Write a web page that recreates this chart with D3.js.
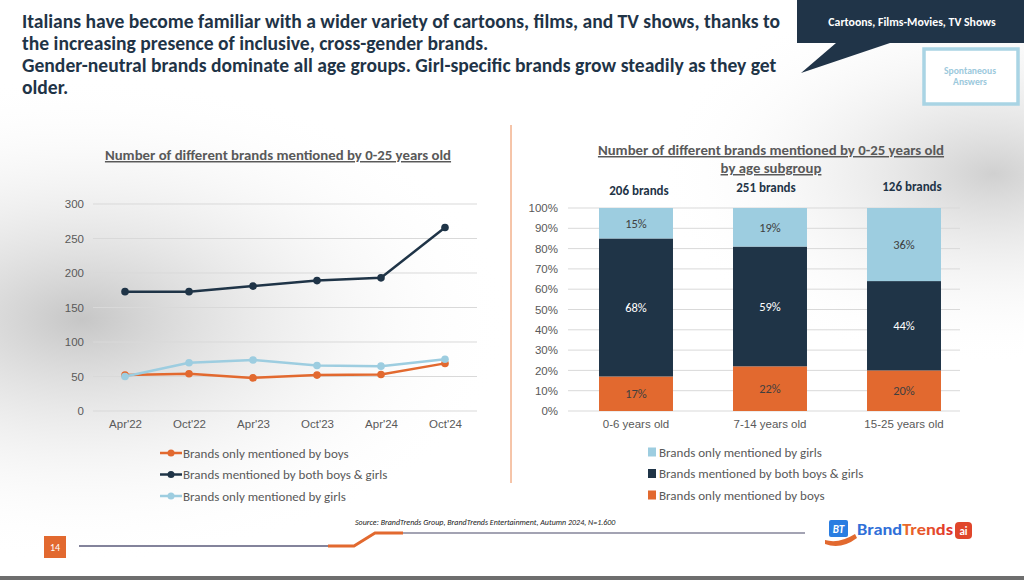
<!DOCTYPE html>
<html>
<head>
<meta charset="utf-8">
<script src="https://cdn.jsdelivr.net/npm/d3@7"></script>
<style>
  body { margin: 0; background: #fff; }
  svg { display: block; font-family: Carlito, Calibri, Lato, "Open Sans", sans-serif; }
</style>
</head>
<body>
<div id="chart"></div>
<script>
// Data
const periods = ["Apr'22", "Oct'22", "Apr'23", "Oct'23", "Apr'24", "Oct'24"];
const boysLine = [52, 54, 48, 52, 53, 69];
const bothLine = [173, 173, 181, 189, 193, 266];
const girlsLine = [50, 70, 74, 66, 65, 75];
const countTicks = [0, 50, 100, 150, 200, 250, 300];

const ageGroups = ["0-6 years old", "7-14 years old", "15-25 years old"];
const brandTotals = ["206 brands", "251 brands", "126 brands"];
const boysShare = [17, 22, 20];
const bothShare = [68, 59, 44];
const girlsShare = [15, 19, 36];
const pctTicks = [0, 10, 20, 30, 40, 50, 60, 70, 80, 90, 100];

const seriesNames = {
  boys: "Brands only mentioned by boys",
  both: "Brands mentioned by both boys & girls",
  girls: "Brands only mentioned by girls"
};

const navy = "#1f3447", orange = "#e2692f", lightBlue = "#9dcde0";
const gray = "#595959", grid = "#d9d9d9";

const svg = d3.select("#chart")
  .append("svg")
  .attr("width", 1024)
  .attr("height", 580);

// Background shading
const defs = svg.append("defs");
const g1 = defs.append("radialGradient").attr("id", "shadeLeft")
  .attr("cx", 0.08).attr("cy", 0.55).attr("r", 0.42);
g1.append("stop").attr("offset", "0%").attr("stop-color", "#c6c6c6");
g1.append("stop").attr("offset", "100%").attr("stop-color", "#fff").attr("stop-opacity", 0);
const g2 = defs.append("radialGradient").attr("id", "shadeRight")
  .attr("cx", 0.97).attr("cy", 0.3).attr("r", 0.33);
g2.append("stop").attr("offset", "0%").attr("stop-color", "#d0d0d0");
g2.append("stop").attr("offset", "100%").attr("stop-color", "#fff").attr("stop-opacity", 0);
const g3 = defs.append("linearGradient").attr("id", "brandGrad");
g3.append("stop").attr("offset", "0%").attr("stop-color", "#f3a22a");
g3.append("stop").attr("offset", "100%").attr("stop-color", "#e0332b");

svg.append("rect").attr("width", 1024).attr("height", 580).attr("fill", "#fff");
svg.append("rect").attr("width", 1024).attr("height", 580).attr("fill", "url(#shadeLeft)");
svg.append("rect").attr("width", 1024).attr("height", 580).attr("fill", "url(#shadeRight)");
svg.append("rect").attr("x", 0).attr("y", 576).attr("width", 1024).attr("height", 4).attr("fill", "#6e6e6e");

// Headline
const headline = [
  "Italians have become familiar with a wider variety of cartoons, films, and TV shows, thanks to",
  "the increasing presence of inclusive, cross-gender brands.",
  "Gender-neutral brands dominate all age groups. Girl-specific brands grow steadily as they get",
  "older."
];
svg.append("g").selectAll("text")
  .data(headline)
  .join("text")
  .attr("x", 22)
  .attr("y", (d, i) => 28 + i * 22)
  .attr("fill", navy)
  .style("font-size", "19.6px")
  .style("font-weight", "bold")
  .text(d => d);

// Callout top right
svg.append("path")
  .attr("d", "M797,0 L1024,0 L1024,43 L890,43 L801,73 L836,43 L797,43 Z")
  .attr("fill", "#203448");
svg.append("text")
  .attr("x", 912).attr("y", 26)
  .attr("text-anchor", "middle")
  .attr("fill", "#fff")
  .style("font-size", "11.8px")
  .style("font-weight", "bold")
  .text("Cartoons, Films-Movies, TV Shows");

svg.append("rect")
  .attr("x", 924).attr("y", 49).attr("width", 94).attr("height", 55)
  .attr("fill", "#fff")
  .attr("stroke", "#a9d4e4")
  .attr("stroke-width", 3.5);
svg.append("g").selectAll("text")
  .data(["Spontaneous", "Answers"])
  .join("text")
  .attr("x", 970)
  .attr("y", (d, i) => 74 + i * 11)
  .attr("text-anchor", "middle")
  .attr("fill", "#9cc9dc")
  .style("font-size", "9.6px")
  .style("font-weight", "bold")
  .text(d => d);

// Divider
svg.append("line")
  .attr("x1", 511).attr("x2", 511).attr("y1", 125).attr("y2", 483)
  .attr("stroke", "#ec8a52").attr("stroke-width", 1);

// ---------- Left chart: line chart ----------
svg.append("text")
  .attr("x", 278).attr("y", 160)
  .attr("text-anchor", "middle")
  .attr("fill", gray)
  .style("font-size", "14.8px")
  .style("font-weight", "bold")
  .style("text-decoration", "underline")
  .text("Number of different brands mentioned by 0-25 years old");

const x1 = d3.scalePoint().domain(periods).range([93, 477]).padding(0.5);
const y1 = d3.scaleLinear().domain([0, 300]).range([411, 204]);

svg.append("g").selectAll("line")
  .data(countTicks)
  .join("line")
  .attr("x1", 93).attr("x2", 477)
  .attr("y1", d => y1(d)).attr("y2", d => y1(d))
  .attr("stroke", grid).attr("stroke-width", 1);

const yAxis1 = svg.append("g")
  .attr("transform", "translate(84,0)")
  .call(d3.axisLeft(y1).tickValues(countTicks).tickSize(0).tickPadding(0));
yAxis1.select(".domain").remove();
yAxis1.selectAll("text").attr("fill", gray).style("font-size", "11.5px").style("font-family", null);

const xAxis1 = svg.append("g")
  .attr("transform", "translate(0,420)")
  .call(d3.axisBottom(x1).tickSize(0).tickPadding(0));
xAxis1.select(".domain").remove();
xAxis1.selectAll("text").attr("fill", gray).style("font-size", "11.5px").style("font-family", null);

const lineSeries = [
  { key: "boys", values: boysLine, color: orange },
  { key: "both", values: bothLine, color: navy },
  { key: "girls", values: girlsLine, color: lightBlue }
];
const line = d3.line().x((d, i) => x1(periods[i])).y(d => y1(d));

lineSeries.forEach(s => {
  svg.append("path")
    .datum(s.values)
    .attr("d", line)
    .attr("fill", "none")
    .attr("stroke", s.color)
    .attr("stroke-width", 2.5)
    .attr("stroke-linejoin", "round");
  svg.append("g").selectAll("circle")
    .data(s.values)
    .join("circle")
    .attr("cx", (d, i) => x1(periods[i]))
    .attr("cy", d => y1(d))
    .attr("r", 3.8)
    .attr("fill", s.color);
});

// Left legend
const legL = svg.append("g").selectAll("g")
  .data(lineSeries)
  .join("g")
  .attr("transform", (d, i) => `translate(160,${453 + i * 21.5})`);
legL.append("line").attr("x1", 0).attr("x2", 22).attr("stroke", d => d.color).attr("stroke-width", 2.5);
legL.append("circle").attr("cx", 11).attr("r", 3.5).attr("fill", d => d.color);
legL.append("text")
  .attr("x", 23).attr("dy", "0.35em")
  .attr("fill", gray)
  .style("font-size", "13px")
  .text(d => seriesNames[d.key]);

// ---------- Right chart: 100% stacked bars ----------
svg.append("g").selectAll("text")
  .data(["Number of different brands mentioned by 0-25 years old", "by age subgroup"])
  .join("text")
  .attr("x", 771)
  .attr("y", (d, i) => 155 + i * 18)
  .attr("text-anchor", "middle")
  .attr("fill", gray)
  .style("font-size", "14.8px")
  .style("font-weight", "bold")
  .style("text-decoration", "underline")
  .text(d => d);

const x2 = d3.scaleBand().domain(ageGroups).range([569, 971]).paddingInner(0.448).paddingOuter(0.224);
const y2 = d3.scaleLinear().domain([0, 100]).range([411, 208]);

svg.append("g").selectAll("line")
  .data(pctTicks)
  .join("line")
  .attr("x1", 568).attr("x2", 960)
  .attr("y1", d => y2(d)).attr("y2", d => y2(d))
  .attr("stroke", grid).attr("stroke-width", 1);

const yAxis2 = svg.append("g")
  .attr("transform", "translate(558,0)")
  .call(d3.axisLeft(y2).tickValues(pctTicks).tickFormat(d => d + "%").tickSize(0).tickPadding(0));
yAxis2.select(".domain").remove();
yAxis2.selectAll("text").attr("fill", gray).style("font-size", "11.5px").style("font-family", null);

const xAxis2 = svg.append("g")
  .attr("transform", "translate(0,420)")
  .call(d3.axisBottom(x2).tickSize(0).tickPadding(0));
xAxis2.select(".domain").remove();
xAxis2.selectAll("text").attr("fill", gray).style("font-size", "11.5px").style("font-family", null);

const barRows = ageGroups.map((a, i) => ({ age: a, boys: boysShare[i], both: bothShare[i], girls: girlsShare[i] }));
const stack = d3.stack().keys(["boys", "both", "girls"]);
const barColors = { boys: orange, both: navy, girls: lightBlue };
const labelColors = { boys: "#3f3f3f", both: "#fff", girls: "#3f3f3f" };

const layers = svg.append("g").selectAll("g")
  .data(stack(barRows))
  .join("g")
  .attr("fill", d => barColors[d.key]);

layers.selectAll("rect")
  .data(d => d)
  .join("rect")
  .attr("x", d => x2(d.data.age))
  .attr("width", x2.bandwidth())
  .attr("y", d => y2(d[1]))
  .attr("height", d => y2(d[0]) - y2(d[1]));

layers.selectAll("text")
  .data(d => d.map(v => ({ v, key: d.key })))
  .join("text")
  .attr("x", d => x2(d.v.data.age) + x2.bandwidth() / 2)
  .attr("y", d => y2((d.v[0] + d.v[1]) / 2))
  .attr("dy", "0.35em")
  .attr("text-anchor", "middle")
  .attr("fill", d => labelColors[d.key])
  .style("font-size", "12.5px")
  .text(d => d.v.data[d.key] + "%");

// totals sit a little off-centre on the slide
const totalShift = [3, -4, 8], totalY = [195, 192, 191];
svg.append("g").selectAll("text")
  .data(brandTotals)
  .join("text")
  .attr("x", (d, i) => x2(ageGroups[i]) + x2.bandwidth() / 2 + totalShift[i])
  .attr("y", (d, i) => totalY[i])
  .attr("text-anchor", "middle")
  .attr("fill", navy)
  .style("font-size", "13px")
  .style("font-weight", "bold")
  .text(d => d);

// Right legend
const rightLegend = ["girls", "both", "boys"];
const legR = svg.append("g").selectAll("g")
  .data(rightLegend)
  .join("g")
  .attr("transform", (d, i) => `translate(648,${452 + i * 21.5})`);
legR.append("rect").attr("x", 0).attr("y", -4.5).attr("width", 8).attr("height", 9).attr("fill", d => barColors[d]);
legR.append("text")
  .attr("x", 11).attr("dy", "0.35em")
  .attr("fill", gray)
  .style("font-size", "13px")
  .text(d => seriesNames[d]);

// ---------- Footer ----------
svg.append("text")
  .attr("x", 355).attr("y", 525)
  .attr("fill", "#222")
  .style("font-size", "8px")
  .style("font-style", "italic")
  .text("Source: BrandTrends Group, BrandTrends Entertainment, Autumn 2024, N=1.600");

svg.append("line").attr("x1", 79).attr("x2", 330).attr("y1", 546).attr("y2", 546)
  .attr("stroke", "#5a5a7a").attr("stroke-width", 1.5);
svg.append("path").attr("d", "M328,546 L354,546 L375,533 L403,533")
  .attr("fill", "none").attr("stroke", "#e2692f").attr("stroke-width", 3);
svg.append("line").attr("x1", 403).attr("x2", 805).attr("y1", 533).attr("y2", 533)
  .attr("stroke", "#a3a3b3").attr("stroke-width", 2);

svg.append("rect").attr("x", 44).attr("y", 536).attr("width", 22).attr("height", 22).attr("fill", "#e2692f");
svg.append("text").attr("x", 55).attr("y", 551).attr("text-anchor", "middle")
  .attr("fill", "#fff").style("font-size", "10px").text("14");

// Logo
const logo = svg.append("g").attr("transform", "translate(829,520)");
logo.append("path").attr("d", "M-4,20 Q10,24 26,14 L28,18 Q12,30 -4,24 Z").attr("fill", "#e2692f");
logo.append("rect").attr("x", 0).attr("y", 0).attr("width", 19).attr("height", 17).attr("rx", 2).attr("fill", "#2a7de1");
logo.append("text").attr("x", 9.5).attr("y", 13).attr("text-anchor", "middle")
  .attr("fill", "#fff").style("font-size", "11px").style("font-weight", "bold").style("font-style", "italic").text("BT");
logo.append("text").attr("x", 28).attr("y", 15)
  .attr("textLength", 96).attr("lengthAdjust", "spacingAndGlyphs")
  .style("font-size", "15px").style("font-weight", "bold")
  .call(t => {
    t.append("tspan").attr("fill", "#2f6fd8").text("Brand");
    t.append("tspan").attr("fill", "url(#brandGrad)").text("Trends");
  });
logo.append("rect").attr("x", 126).attr("y", 2).attr("width", 17).attr("height", 17).attr("rx", 4).attr("fill", "#e0462b");
logo.append("text").attr("x", 134.5).attr("y", 15).attr("text-anchor", "middle")
  .attr("fill", "#fff").style("font-size", "11px").style("font-weight", "bold").text("ai");
</script>
</body>
</html>
